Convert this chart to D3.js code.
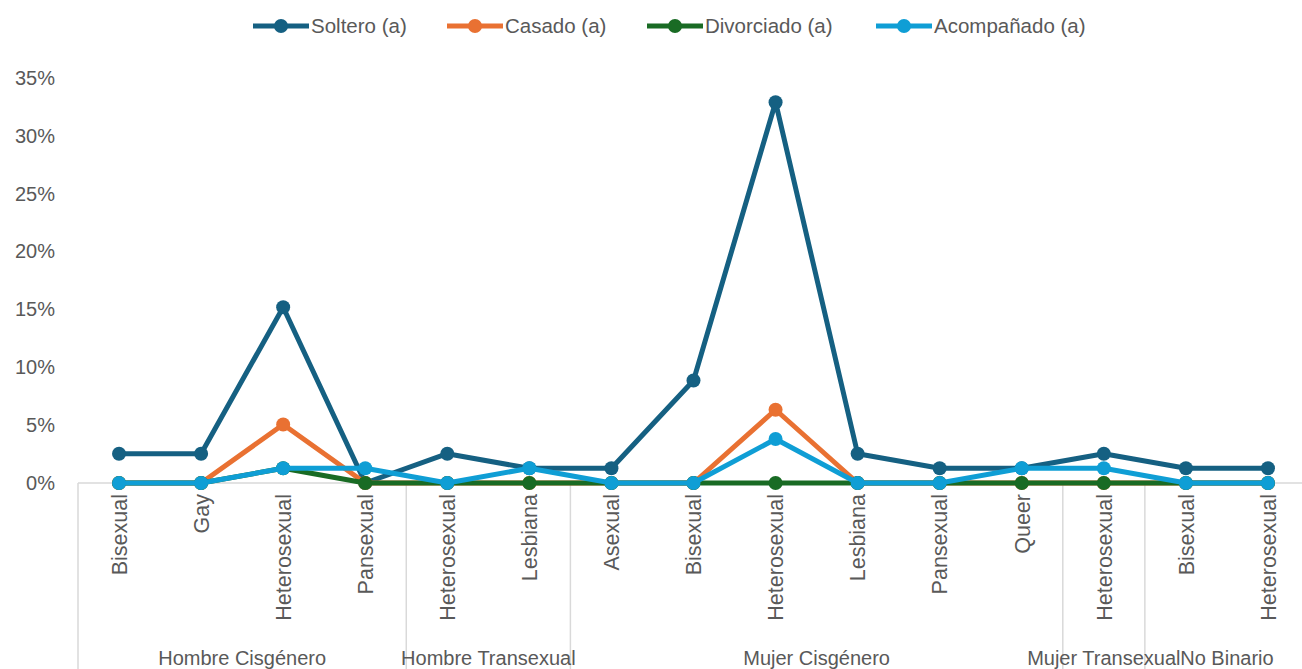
<!DOCTYPE html>
<html>
<head>
<meta charset="utf-8">
<script src="https://cdn.jsdelivr.net/npm/d3@7"></script>
<style>
  body { margin: 0; background: #fff; }
  svg { display: block; font-family: "Liberation Sans", Arial, sans-serif; }
</style>
</head>
<body>
<svg id="chart" width="1302" height="669"></svg>
<script>
const groups = ["Hombre Cisgénero", "Hombre Transexual", "Mujer Cisgénero", "Mujer Transexual", "No Binario"];
const groupSizes = [4, 2, 6, 1, 2];
const categories = [
  "Bisexual", "Gay", "Heterosexual", "Pansexual",
  "Heterosexual", "Lesbiana",
  "Asexual", "Bisexual", "Heterosexual", "Lesbiana", "Pansexual", "Queer",
  "Heterosexual",
  "Bisexual", "Heterosexual"
];
const seriesNames = ["Soltero (a)", "Casado (a)", "Divorciado (a)", "Acompañado (a)"];
const soltero    = [2.53, 2.53, 15.19, 0, 2.53, 1.27, 1.27, 8.86, 32.91, 2.53, 1.27, 1.27, 2.53, 1.27, 1.27];
const casado     = [0, 0, 5.06, 0, 0, 0, 0, 0, 6.33, 0, 0, 0, 0, 0, 0];
const divorciado = [0, 0, 1.27, 0, 0, 0, 0, 0, 0, 0, 0, 0, 0, 0, 0];
const acompanado = [0, 0, 1.27, 1.27, 0, 1.27, 0, 0, 3.80, 0, 0, 1.27, 1.27, 0, 0];
const yTicks = [0, 5, 10, 15, 20, 25, 30, 35];
const colors = ["#156082", "#E97132", "#196B24", "#0F9ED5"];

const seriesData = [soltero, casado, divorciado, acompanado];
const svg = d3.select("#chart");
const plotLeft = 78, plotRight = 1309, plotTop = 78, plotBottom = 483;
const textColor = "#595959";

const x = d3.scaleBand().domain(d3.range(categories.length)).range([plotLeft, plotRight]);
const y = d3.scaleLinear().domain([0, 35]).range([plotBottom, plotTop]);

// y axis labels
const yAxis = d3.axisLeft(y).tickValues(yTicks).tickFormat(d => d + "%").tickSize(0).tickPadding(0);
const ya = svg.append("g").attr("transform", "translate(55,0)").call(yAxis);
ya.select(".domain").remove();
ya.selectAll("text").attr("fill", textColor).style("font-size", "20px").style("font-family", '"Liberation Sans", Arial, sans-serif');

// zero baseline
svg.append("line").attr("x1", plotLeft).attr("x2", plotRight).attr("y1", y(0)).attr("y2", y(0))
  .attr("stroke", "#d9d9d9").attr("stroke-width", 1.5);

// group separators
let idx = 0;
const bounds = [0];
groupSizes.forEach(s => { idx += s; bounds.push(idx); });
bounds.forEach((b, i) => {
  const xx = b === categories.length ? plotRight : x(b);
  svg.append("line").attr("x1", xx).attr("x2", xx).attr("y1", y(0)).attr("y2", 669)
    .attr("stroke", "#d9d9d9").attr("stroke-width", 1.5);
});

// category labels
categories.forEach((c, i) => {
  svg.append("text")
    .attr("transform", `translate(${x(i) + x.bandwidth() / 2},494) rotate(-90)`)
    .attr("text-anchor", "end").attr("dy", "0.36em")
    .attr("fill", textColor).style("font-size", "21.5px").text(c);
});

// group labels
groups.forEach((g, i) => {
  const x0 = x(bounds[i]);
  const x1 = bounds[i + 1] === categories.length ? plotRight : x(bounds[i + 1]);
  svg.append("text").attr("x", (x0 + x1) / 2).attr("y", 665)
    .attr("text-anchor", "middle").attr("fill", textColor).style("font-size", "20px").text(g);
});

// lines and markers
const line = d3.line().x((d, i) => x(i) + x.bandwidth() / 2).y(d => y(d));
seriesData.forEach((data, si) => {
  const g = svg.append("g");
  g.append("path").datum(data).attr("d", line).attr("fill", "none")
    .attr("stroke", colors[si]).attr("stroke-width", 5).attr("stroke-linejoin", "round");
  g.selectAll("circle").data(data).join("circle")
    .attr("cx", (d, i) => x(i) + x.bandwidth() / 2).attr("cy", d => y(d)).attr("r", 7)
    .attr("fill", colors[si]);
});

// legend
const legendX = [253, 447, 647, 876];
seriesNames.forEach((n, i) => {
  const g = svg.append("g").attr("transform", `translate(${legendX[i]},26)`);
  g.append("line").attr("x1", 0).attr("x2", 56).attr("y1", 0).attr("y2", 0)
    .attr("stroke", colors[i]).attr("stroke-width", 5);
  g.append("circle").attr("cx", 28).attr("cy", 0).attr("r", 7).attr("fill", colors[i]);
  g.append("text").attr("x", 58).attr("dy", "0.35em").attr("fill", textColor)
    .style("font-size", "20.5px").text(n);
});
</script>
</body>
</html>
